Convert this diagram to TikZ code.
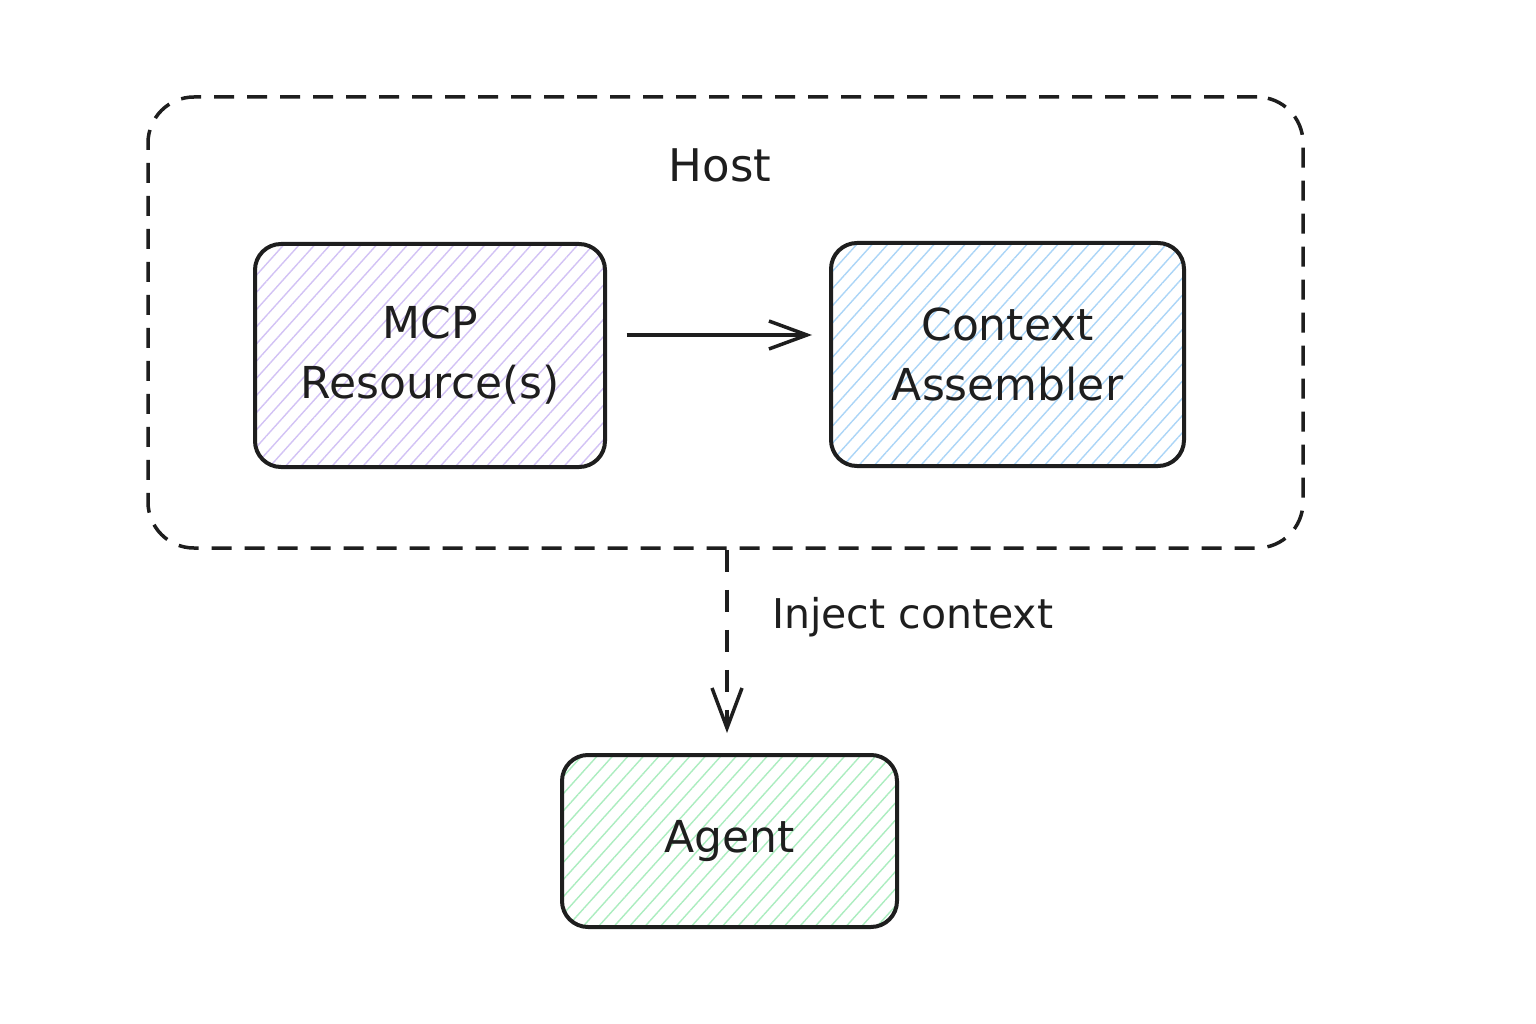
\documentclass[tikz,border=0pt]{standalone}
\usepackage{fontspec}
\setmainfont{DejaVu Sans}
\usetikzlibrary{arrows.meta,patterns.meta}
\definecolor{ink}{HTML}{1E1E1E}
\definecolor{hpurple}{HTML}{D2C2F5}
\definecolor{hblue}{HTML}{ABD5F7}
\definecolor{hgreen}{HTML}{ABEDBF}
\tikzset{
  x=1pt, y=1pt,
  boxnode/.style={draw=ink, line width=4pt, rounded corners=26pt, align=center,
    font=\fontsize{44}{60}\selectfont, text=ink, inner sep=0pt},
  hatch/.style={pattern={Lines[angle=48,distance=11.5pt,line width=1.4pt]}, pattern color=#1},
  hostbox/.style={draw=ink, line width=3.5pt, rounded corners=46pt, dash pattern=on 20pt off 13pt, inner sep=0pt},
  arr/.style={draw=ink, line width=3.5pt, -{Straight Barb[length=38pt,width=28pt,line width=3.5pt]}},
  darr/.style={draw=ink, line width=3.5pt, dash pattern=on 22pt off 18pt, -{Straight Barb[length=40pt,width=30pt,line width=3.5pt]}},
  lbl/.style={text=ink, inner sep=0pt}
}
\begin{document}
\begin{tikzpicture}
\useasboundingbox[fill=white] (0,0) rectangle (1536,-1024);
\node[hostbox, minimum width=1155pt, minimum height=451pt] (host) at (725.5,-322.5) {};
\node[lbl, font=\fontsize{45}{54}\selectfont] (hostlbl) at (720,-165) {Host};
\node[boxnode, hatch=hpurple, minimum width=350pt, minimum height=223pt] (mcp) at (430,-355.5) {MCP\\Resource(s)};
\node[boxnode, hatch=hblue, minimum width=353pt, minimum height=223pt] (ctx) at (1007.5,-354.5) {Context\\Assembler};
\node[boxnode, hatch=hgreen, minimum width=335pt, minimum height=172pt] (agent) at (729.5,-841) {Agent};
\draw[arr] ([shift={(21,20.5)}]mcp.east) -- ([shift={(-17,19.5)}]ctx.west);
\draw[darr] ([xshift=1.5]host.south) -- ([shift={(-2.5,20)}]agent.north);
\node[lbl, anchor=west, font=\fontsize{41}{50}\selectfont] (inj) at (772,-617) {Inject context};
\end{tikzpicture}
\end{document}
